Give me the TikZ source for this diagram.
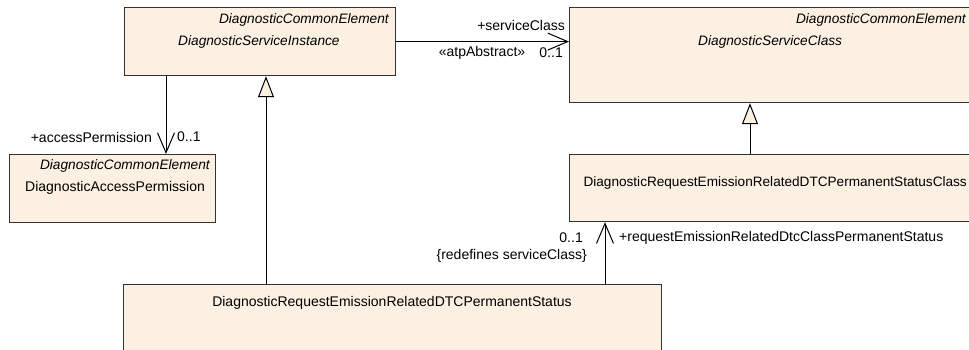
\documentclass[tikz,border=0pt]{standalone}
\usepackage{fontspec}
\setmainfont{Liberation Sans}
\usetikzlibrary{arrows.meta}
\definecolor{boxfill}{RGB}{251,240,225}
\definecolor{boxline}{RGB}{50,50,50}
\tikzset{
  umlbox/.style={draw=boxline, fill=boxfill, line width=1.2pt, inner sep=0pt, anchor=north west},
  lbl/.style={inner sep=0pt, font=\fontsize{14}{16}\selectfont, text=black},
  ilbl/.style={lbl, font=\fontsize{13.7}{16}\selectfont\itshape},
  assoc/.style={draw=black, line width=1pt, -{Straight Barb[length=20pt, width=17pt, line width=1pt]}},
  gener/.style={draw=black, line width=1pt, -{Triangle[length=21pt, width=16pt, fill=boxfill, line width=1pt]}}
}
\begin{document}
\begin{tikzpicture}[x=1pt,y=-1pt]
\useasboundingbox (0,0) rectangle (969,349);
% boxes
\node[umlbox, minimum width=271pt, minimum height=68pt] (A) at (124,7) {};
\node[umlbox, minimum width=431pt, minimum height=95pt] (B) at (569,7) {};
\node[umlbox, minimum width=431pt, minimum height=67pt] (C) at (569,154) {};
\node[umlbox, minimum width=206pt, minimum height=68pt] (D) at (9,154) {};
\node[umlbox, minimum width=538pt, minimum height=90pt] (E) at (123,284) {};
% box texts
\node[ilbl, anchor=east] (A1) at (389,20) {DiagnosticCommonElement};
\node[ilbl, anchor=west] (A2) at (178,42) {DiagnosticServiceInstance};
\node[ilbl, anchor=east] (B1) at (966,20) {DiagnosticCommonElement};
\node[ilbl, anchor=west] (B2) at (698,42) {DiagnosticServiceClass};
\node[ilbl, anchor=east] (D1) at (210,166) {DiagnosticCommonElement};
\node[lbl, anchor=west] (D2) at (25,188) {DiagnosticAccessPermission};
\node[lbl, anchor=east, font=\fontsize{13.6}{16}\selectfont] (C1) at (967,183) {DiagnosticRequestEmissionRelatedDTCPermanentStatusClass};
\node[lbl] (E1) at (392,303) {DiagnosticRequestEmissionRelatedDTCPermanentStatus};
% connectors
\draw[assoc] (A.east) -- (A.east -| B.west);
\draw[assoc] ([xshift=42pt]A.south west) -- ([xshift=42pt]A.south west |- D.north);
\draw[gener] ([xshift=143pt]E.north west) -- ([xshift=143pt]E.north west |- A.south);
\draw[gener] ([xshift=181pt]C.north west) -- ([xshift=181pt]C.north west |- B.south);
\draw[assoc] ([xshift=36pt]C.south west |- E.north) -- ([xshift=36pt]C.south west);
% connector labels
\node[lbl, anchor=east] (l1) at (565,25) {+serviceClass};
\node[lbl] (l2) at (482,53) {«atpAbstract»};
\node[lbl, anchor=east] (l3) at (563,53) {0..1};
\node[lbl, anchor=east] (l4) at (152,137) {+accessPermission};
\node[lbl, anchor=west] (l5) at (177,137) {0..1};
\node[lbl, anchor=east] (l6) at (583,238) {0..1};
\node[lbl, anchor=east] (l7) at (587,256) {\{redefines serviceClass\}};
\node[lbl, anchor=west] (l8) at (619,238) {+requestEmissionRelatedDtcClassPermanentStatus};
\end{tikzpicture}
\end{document}
